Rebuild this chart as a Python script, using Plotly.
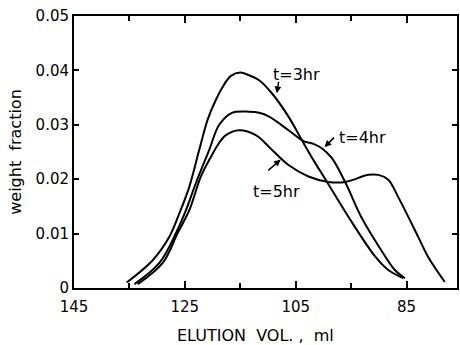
import plotly.graph_objects as go

# Elution volume (ml) and weight fraction for each reaction time
x_3hr = [135.5, 130.8, 127.8, 126.0, 124.2, 122.4, 120.9, 119.4, 118.1, 116.7, 115.0, 113.4,
         111.6, 109.3, 106.3, 103.9, 101.5, 99.6, 95.5, 90.6, 88.3, 85.6]
y_3hr = [0.0010, 0.0051, 0.0094, 0.0137, 0.0186, 0.0254, 0.0309, 0.0346, 0.0371, 0.0390, 0.0396, 0.0391,
         0.0382, 0.0358, 0.0315, 0.0272, 0.0230, 0.0199, 0.0131, 0.0057, 0.0033, 0.0018]

x_4hr = [134.1, 129.6, 126.6, 124.8, 123.0, 120.6, 118.8, 116.5, 113.4, 111.6, 109.8, 106.3,
         103.6, 101.8, 100.3, 98.5, 96.0, 93.2, 89.6, 87.1, 85.3]
y_4hr = [0.0007, 0.0046, 0.0101, 0.0143, 0.0193, 0.0254, 0.0300, 0.0322, 0.0324, 0.0322, 0.0315, 0.0290,
         0.0270, 0.0265, 0.0257, 0.0239, 0.0193, 0.0131, 0.0070, 0.0033, 0.0018]

x_5hr = [133.5, 129.0, 126.3, 124.2, 122.1, 120.3, 118.8, 117.6, 115.2, 112.2, 109.3, 106.3,
         102.7, 99.1, 96.0, 91.9, 90.1, 88.3, 86.5, 82.9, 81.1, 78.1]
y_5hr = [0.0007, 0.0046, 0.0101, 0.0143, 0.0205, 0.0241, 0.0267, 0.0281, 0.0290, 0.0281, 0.0254, 0.0226,
         0.0205, 0.0195, 0.0195, 0.0208, 0.0208, 0.0199, 0.0167, 0.0094, 0.0057, 0.0011]

x_ticks = [145, 125, 105, 85]
x_minor_ticks = [135, 115, 95]
y_ticks = [0, 0.01, 0.02, 0.03, 0.04, 0.05]
y_ticktext = ["0", "0.01", "0.02", "0.03", "0.04", "0.05"]

FONT = "DejaVu Sans"
X_RANGE = [145, 75.9]

fig = go.Figure()
for xs, ys, name in [(x_3hr, y_3hr, "t=3hr"), (x_4hr, y_4hr, "t=4hr"), (x_5hr, y_5hr, "t=5hr")]:
    fig.add_trace(go.Scatter(x=xs, y=ys, mode="lines", name=name,
                             line=dict(color="black", width=2, shape="spline", smoothing=1.0),
                             showlegend=False, hoverinfo="x+y"))

# invisible trace so the top (mirror) axis with its own ticks is drawn
fig.add_trace(go.Scatter(x=[x_ticks[0]], y=[y_ticks[0]], xaxis="x2", mode="markers",
                         marker=dict(opacity=0), showlegend=False, hoverinfo="skip"))

# curve labels (text) and pointer arrows
labels = [
    ("t=3hr", 104.8, 0.0392, 108.4, 0.0358, 2, -13),
    ("t=4hr", 93.0, 0.0276, 99.8, 0.0259, 11, -11),
    ("t=5hr", 108.4, 0.0178, 107.7, 0.0236, -14, 12),
]
for text, tx, ty, px, py, ax, ay in labels:
    fig.add_annotation(x=tx, y=ty, text=text, showarrow=False,
                       font=dict(family=FONT, size=16, color="black"))
    fig.add_annotation(x=px, y=py, text="", showarrow=True, ax=ax, ay=ay,
                       arrowhead=2, arrowsize=0.9, arrowwidth=1.5, arrowcolor="black")

# x-axis title
fig.add_annotation(xref="paper", yref="paper", x=0.473, y=-0.176, xanchor="center",
                   yanchor="middle", showarrow=False, text="ELUTION&nbsp; VOL. ,&nbsp; ml",
                   font=dict(family=FONT, size=16, color="black"))

tick_common = dict(ticks="inside", tickcolor="black", showgrid=False, zeroline=False)

fig.update_layout(
    width=460, height=345,
    margin=dict(l=74, r=1, t=16, b=57),
    paper_bgcolor="white", plot_bgcolor="white",
    font=dict(family=FONT, size=15, color="black"),
    xaxis=dict(range=X_RANGE, tickvals=x_ticks, ticklen=7, tickwidth=2,
               showline=True, linecolor="black", linewidth=2, mirror=False,
               ticklabelstandoff=4, tickfont=dict(family=FONT, size=15),
               minor=dict(tickvals=x_minor_ticks, ticks="inside", ticklen=5, tickwidth=1.5,
                          tickcolor="black", showgrid=False),
               **tick_common),
    xaxis2=dict(range=X_RANGE, overlaying="x", side="top", tickvals=x_ticks, ticklen=7,
                tickwidth=2, showline=True, linecolor="black", linewidth=2,
                showticklabels=False,
                minor=dict(tickvals=x_minor_ticks, ticks="inside", ticklen=5, tickwidth=1.5,
                           tickcolor="black", showgrid=False),
                **tick_common),
    yaxis=dict(range=[0, 0.05], tickvals=y_ticks, ticktext=y_ticktext,
               ticklen=5, tickwidth=2, showline=True, linecolor="black",
               linewidth=2, mirror="ticks",
               tickfont=dict(family=FONT, size=15),
               title=dict(text="weight&nbsp; fraction", standoff=10,
                          font=dict(family=FONT, size=16)),
               **tick_common),
)

fig.write_html("out.html")
